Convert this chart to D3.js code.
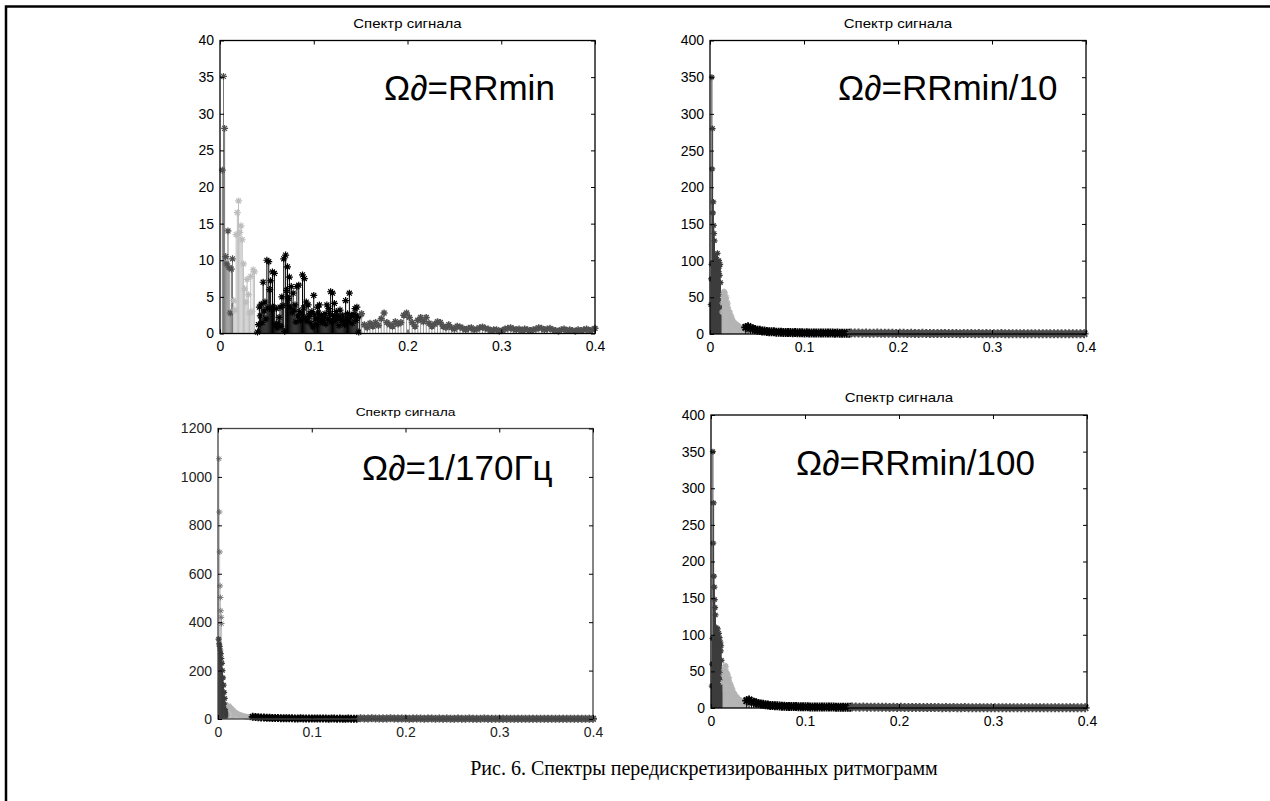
<!DOCTYPE html>
<meta charset="utf-8">
<script src="https://d3js.org/d3.v7.min.js"></script>
<style>
  body { margin: 0; background: #fff; }
  text { font-family: "Liberation Sans", Arial, sans-serif; }
  text.caption { font-family: "Liberation Serif", "Times New Roman", serif; }
</style>
<body>
<div id="fig"></div>
<script>
// ---- data ----
var xTicks = [0, 0.1, 0.2, 0.3, 0.4];
var xTickLabels = ["0", "0.1", "0.2", "0.3", "0.4"];
var yTicksA = [0, 5, 10, 15, 20, 25, 30, 35, 40];
var yTicksB = [0, 50, 100, 150, 200, 250, 300, 350, 400];
var yTicksC = [0, 200, 400, 600, 800, 1000, 1200];
var yTicksD = [0, 50, 100, 150, 200, 250, 300, 350, 400];
var titles = ["Спектр сигнала", "Спектр сигнала", "Спектр сигнала", "Спектр сигнала"];
var labels = ["=RRmin", "=RRmin/10", "=1/170Гц", "=RRmin/100"];
var caption = "Рис. 6. Спектры передискретизированных ритмограмм";

// panel A: Ωд = RRmin  (each band: first frequency, frequency step, amplitudes)
var aBand1 = [22.3, 35.1, 28.0, 10.5, 9.5, 14.0, 9.0, 2.8, 8.8, 10.2];
var aBand2 = [4.5, 3.2, 13.5, 16.5, 18.1, 13.8, 14.7, 12.8, 9.5, 6.1, 4.3, 7.4, 5.3, 2.8, 7.8, 3.0, 8.7, 8.4];
var aBand3 = [0.2, 1.2, 3.6, 2.4, 4.0, 1.5, 7.0, 3.1, 4.3, 2.0, 10.0, 3.5, 9.8, 6.0, 7.2, 3.3, 8.4, 3.6, 8.2, 1.2,
  3.4, 0.8, 1.4, 2.2, 3.6, 1.0, 5.0, 3.8, 10.2, 0.3, 10.7, 5.9, 9.1, 4.8, 7.7, 3.6, 6.4, 2.9, 5.5, 3.2,
  3.9, 1.6, 6.4, 2.4, 6.6, 3.0, 1.8, 2.6, 8.0, 3.5, 7.5, 2.1, 4.3, 1.7, 3.9, 2.3, 2.7, 1.4, 3.0, 0.9,
  5.2, 2.6, 2.0, 1.2, 3.6, 2.8, 3.9, 1.9, 2.5, 1.5, 1.8, 2.2, 2.7, 1.3, 3.9, 2.0, 3.4, 2.7, 5.7, 1.6,
  5.5, 2.3, 4.1, 1.8, 3.0, 2.4, 2.3, 1.1, 3.2, 1.9, 1.8, 2.5, 1.8, 1.2, 4.5, 2.0, 2.7, 1.6, 5.5, 2.2,
  2.5, 1.4, 2.5, 2.6, 3.4, 1.8, 3.6, 2.3, 0.2, 2.4];
var aBand4 = [2.7, 1.2, 0.8, 1.4, 1.0, 1.5, 1.1, 2.0, 2.8, 1.5,
  1.2, 1.0, 1.6, 1.3, 1.5, 2.5, 2.8, 2.2, 1.5, 1.0,
  1.8, 2.2, 1.6, 2.2, 1.4, 1.0, 1.3, 1.6, 1.5, 1.0,
  0.8, 1.2, 0.8, 0.6, 1.0, 0.9, 0.7, 0.5, 0.7, 0.8,
  0.5, 0.6, 0.8, 0.9, 0.7, 0.6, 0.4, 0.5, 0.5, 0.3,
  0.4, 0.6, 0.7, 0.8, 0.6, 0.5, 0.6, 0.4, 0.6, 0.5,
  0.4, 0.5, 0.6, 0.8, 0.7, 0.5, 0.6, 0.7, 0.5, 0.4,
  0.3, 0.5, 0.6, 0.4, 0.5, 0.4, 0.3, 0.5, 0.4, 0.5,
  0.6, 0.4, 0.5, 0.7];

// panel B: Ωд = RRmin/10
var bBand1 = [40, 75, 95, 350, 225, 280, 165, 180, 148, 137, 127, 108, 100, 92, 104, 98, 95, 88, 110, 96,
  90, 85, 100, 92, 80, 95, 70, 55, 40, 20];
var bBand2 = [30, 42, 50, 55, 58, 57, 56, 52, 48, 50, 45, 40, 42, 36, 32, 30, 28, 30, 25, 22,
  24, 20, 18, 19, 16, 15, 14, 15, 13, 12, 14, 12, 11, 10, 12, 10, 9, 10, 8, 9,
  8, 7, 8, 6, 7, 6, 5, 6, 5, 4];
var bBand3 = [9, 10, 8, 7, 6, 5, 5, 4, 4, 3.5, 3, 3, 3, 2.5, 2.5, 2.5, 2, 2.2, 2, 2,
  1.8, 2, 1.8, 1.6, 1.8, 1.5, 1.6, 1.5, 1.5, 1.4, 1.5, 1.3, 1.4, 1.3, 1.2, 1.3, 1.2, 1.2, 1.1, 1.2,
  1, 1.1, 1, 1.1, 1];
var bBand4 = [1.4, 1.2, 1.3, 1.1, 1.2, 1.0, 1.1, 1.2, 0.9, 1.0, 1.1, 0.9, 0.8, 1.0, 0.9, 0.8, 0.9, 0.7, 0.8, 0.9,
  0.7, 0.8, 0.6, 0.7, 0.8, 0.7, 0.6, 0.7, 0.6, 0.5, 0.6, 0.7, 0.6, 0.5, 0.6, 0.5, 0.6, 0.5, 0.4, 0.5,
  0.6, 0.5, 0.4, 0.5, 0.4, 0.5, 0.4, 0.4, 0.5, 0.4, 0.3, 0.4, 0.5, 0.4, 0.3, 0.4, 0.3, 0.4, 0.3, 0.4,
  0.3, 0.4, 0.5];

// panel C: Ωд = 1/170 Гц  (tall thin spikes drawn over the dark band)
var cSpikes = [1075, 855, 690, 550, 502, 447, 420, 394];
var cBand1 = [330, 310, 300, 285, 270, 250, 230, 200, 170, 140, 110, 85, 60, 40, 25, 15];
var cBand2 = [55, 50, 45, 42, 38, 34, 30, 27, 24, 22, 20, 18, 16, 15, 14, 12, 11, 10, 9, 9, 8, 8, 7, 7];
var cBand3 = [9, 8, 7, 6, 6, 5, 5, 4, 4, 4, 3, 3, 3, 3, 3, 2, 2, 3, 2, 2,
  2, 2, 2, 2, 2, 2, 2, 1, 2, 2, 1, 2, 1, 1, 2, 1, 1, 1];
var cBand4 = [3, 2, 2, 3, 2, 2, 2, 2, 3, 2, 2, 2, 2, 1, 2, 2, 2, 1, 2, 2,
  1, 2, 1, 2, 1, 1, 2, 1, 1, 2, 1, 1, 1, 2, 1, 1, 1, 1, 1, 1,
  1, 1, 1, 1, 1, 1, 1, 1, 1, 1, 1, 1, 1, 1, 1, 1, 1, 1, 1, 1,
  1, 1, 1];

// panel D: Ωд = RRmin/100
var dBand1 = [30, 60, 95, 350, 225, 280, 180, 165, 148, 137, 127, 105, 110, 98, 92, 100, 108, 95, 90, 102,
  88, 96, 85, 90, 78, 85, 65, 50, 35, 18];
var dBand2 = [35, 45, 52, 56, 58, 55, 57, 50, 47, 44, 46, 40, 38, 41, 35, 33, 30, 31, 27, 25,
  26, 22, 21, 20, 18, 19, 16, 15, 16, 14, 13, 14, 12, 11, 12, 10, 11, 9, 10, 9,
  8, 9, 8, 7, 8, 7, 6, 7, 6, 5];
var dBand3 = [10, 11, 9, 8, 7, 6, 5.5, 5, 4.5, 4, 3.5, 3.5, 3, 3, 2.8, 2.5, 2.5, 2.2, 2.2, 2,
  2, 1.9, 1.8, 1.8, 1.7, 1.6, 1.6, 1.5, 1.5, 1.4, 1.4, 1.3, 1.4, 1.3, 1.2, 1.3, 1.2, 1.2, 1.1, 1.1,
  1.1, 1, 1.1, 1, 1];
var dBand4 = [1.3, 1.2, 1.1, 1.2, 1.0, 1.1, 1.0, 0.9, 1.0, 0.9, 0.8, 0.9, 0.8, 0.9, 0.7, 0.8, 0.7, 0.8, 0.7, 0.6,
  0.7, 0.6, 0.7, 0.6, 0.5, 0.6, 0.5, 0.6, 0.5, 0.5, 0.6, 0.5, 0.4, 0.5, 0.4, 0.5, 0.4, 0.5, 0.4, 0.4,
  0.5, 0.4, 0.3, 0.4, 0.4, 0.3, 0.4, 0.3, 0.4, 0.3, 0.4, 0.3, 0.3, 0.4, 0.3, 0.3, 0.4, 0.3, 0.3, 0.3,
  0.4, 0.3, 0.3];

var W = 1270, H = 801;
var svg = d3.select("#fig").append("svg")
  .attr("width", W).attr("height", H);

// outer frame (top and left edges only are visible)
svg.append("path")
  .attr("d", "M6,801V6.5H1270")
  .attr("fill", "none").attr("stroke", "#000").attr("stroke-width", 2.5);

function starPath(r) {
  var d = r * 0.7;
  return "M" + (-r) + ",0H" + r + "M0," + (-r) + "V" + r +
    "M" + (-d) + "," + (-d) + "L" + d + "," + d +
    "M" + (-d) + "," + d + "L" + d + "," + (-d);
}

function drawPanel(p) {
  var x = d3.scaleLinear().domain([0, 0.4]).range([p.left, p.right]);
  var y = d3.scaleLinear().domain([0, p.yMax]).range([p.bottom, p.top]);
  var g = svg.append("g");

  // stems + stars, one colour band after another
  p.bands.forEach(function(b) {
    var pts = b.values.map(function(v, i) { return { f: b.start + i * b.step, v: v }; });
    g.append("g").selectAll("line").data(pts).join("line")
      .attr("x1", function(d) { return x(d.f); })
      .attr("x2", function(d) { return x(d.f); })
      .attr("y1", y(0))
      .attr("y2", function(d) { return y(d.v); })
      .attr("stroke", b.stemColor || b.color).attr("stroke-width", 1);
    g.append("g").selectAll("path").data(pts).join("path")
      .attr("transform", function(d) { return "translate(" + x(d.f) + "," + y(d.v) + ")"; })
      .attr("d", starPath(b.r || 3.5))
      .attr("fill", "none").attr("stroke", b.color).attr("stroke-width", b.sw || 1.2);
  });

  // box
  g.append("rect")
    .attr("x", p.left).attr("y", p.top)
    .attr("width", p.right - p.left).attr("height", p.bottom - p.top)
    .attr("fill", "none").attr("stroke", p.boxColor).attr("stroke-width", 1.3);

  // axes with inward ticks (MATLAB style)
  var fmt = function(d, i) { return xTickLabels[i]; };
  var axB = g.append("g").attr("transform", "translate(0," + p.bottom + ")")
    .call(d3.axisBottom(x).tickValues(xTicks).tickFormat(fmt).tickSize(-4).tickSizeOuter(0).tickPadding(8));
  var axT = g.append("g").attr("transform", "translate(0," + p.top + ")")
    .call(d3.axisTop(x).tickValues(xTicks).tickFormat("").tickSize(-4).tickSizeOuter(0));
  var axL = g.append("g").attr("transform", "translate(" + p.left + ",0)")
    .call(d3.axisLeft(y).tickValues(p.yTicks).tickFormat(d3.format("d")).tickSize(-4).tickSizeOuter(0).tickPadding(6));
  var axR = g.append("g").attr("transform", "translate(" + p.right + ",0)")
    .call(d3.axisRight(y).tickValues(p.yTicks).tickFormat("").tickSize(-4).tickSizeOuter(0));
  [axB, axT, axL, axR].forEach(function(a) {
    a.select(".domain").remove();
    a.selectAll("line").attr("stroke", "#000");
    a.selectAll("text").attr("font-family", "Liberation Sans, Arial, sans-serif")
      .attr("font-size", p.tickFont).attr("fill", p.tickColor);
  });

  // title (the scan is stretched sideways)
  g.append("text")
    .attr("transform", "translate(" + ((p.left + p.right) / 2) + "," + (p.top - 13) + ") scale(1.2,1)")
    .attr("text-anchor", "middle").attr("font-size", p.titleFont)
    .attr("fill", "#000").text(p.title);

  // big label Ωд=...
  var t = g.append("text")
    .attr("x", p.labelX).attr("y", p.labelY)
    .attr("font-size", 35).attr("fill", "#000");
  t.append("tspan").text("Ω");
  t.append("tspan").attr("font-style", "italic").text("∂");
  t.append("tspan").text(p.label);
}

drawPanel({
  left: 220, right: 595, top: 40.5, bottom: 333.5, yMax: 40, yTicks: yTicksA,
  boxColor: "#000", tickFont: 14, tickColor: "#000", titleFont: 12.5,
  title: titles[0], label: labels[0], labelX: 384, labelY: 100,
  bands: [
    { start: 0.0025, step: 0.0012, values: aBand1, color: "#505050", stemColor: "#777" },
    { start: 0.0146, step: 0.0013, values: aBand2, color: "#bdbdbd" },
    { start: 0.040, step: 0.001, values: aBand3, color: "#000" },
    { start: 0.151, step: 0.003, values: aBand4, color: "#505050", stemColor: "#9a9a9a", sw: 1.5 }
  ]
});

drawPanel({
  left: 710, right: 1086, top: 40.5, bottom: 334, yMax: 400, yTicks: yTicksB,
  boxColor: "#000", tickFont: 14, tickColor: "#000", titleFont: 12.5,
  title: titles[1], label: labels[1], labelX: 838, labelY: 100,
  bands: [
    { start: 0.0008, step: 0.0004, values: bBand1, color: "#3c3c3c", r: 3 },
    { start: 0.0128, step: 0.0005, values: bBand2, color: "#b4b4b4", r: 3 },
    { start: 0.038, step: 0.0025, values: bBand3, color: "#000", r: 4.5, sw: 1.9 },
    { start: 0.150, step: 0.004, values: bBand4, color: "#4d4d4d", r: 4.5, sw: 1.9 }
  ]
});

drawPanel({
  left: 218, right: 593, top: 428.5, bottom: 719, yMax: 1200, yTicks: yTicksC,
  boxColor: "#444", tickFont: 14, tickColor: "#222", titleFont: 11.5,
  title: titles[2], label: labels[2], labelX: 362, labelY: 480,
  bands: [
    { start: 0.0010, step: 0.0004, values: cSpikes, color: "#777", stemColor: "#c4c4c4", r: 3, sw: 1 },
    { start: 0.0006, step: 0.0006, values: cBand1, color: "#3a3a3a", r: 3 },
    { start: 0.0115, step: 0.001, values: cBand2, color: "#b4b4b4", r: 3 },
    { start: 0.037, step: 0.003, values: cBand3, color: "#000", r: 4, sw: 1.8 },
    { start: 0.152, step: 0.004, values: cBand4, color: "#4d4d4d", r: 4, sw: 1.8 }
  ]
});

drawPanel({
  left: 711, right: 1087, top: 415, bottom: 708, yMax: 400, yTicks: yTicksD,
  boxColor: "#000", tickFont: 14, tickColor: "#000", titleFont: 12.5,
  title: titles[3], label: labels[3], labelX: 796, labelY: 475,
  bands: [
    { start: 0.0008, step: 0.0004, values: dBand1, color: "#3c3c3c", r: 3 },
    { start: 0.0128, step: 0.0005, values: dBand2, color: "#b4b4b4", r: 3 },
    { start: 0.038, step: 0.0025, values: dBand3, color: "#000", r: 4.5, sw: 1.9 },
    { start: 0.150, step: 0.004, values: dBand4, color: "#4d4d4d", r: 4.5, sw: 1.9 }
  ]
});

svg.append("text")
  .attr("class", "caption")
  .attr("x", 704).attr("y", 775)
  .attr("text-anchor", "middle")
  .attr("font-size", 20).attr("fill", "#000")
  .text(caption);
</script>
</body>
